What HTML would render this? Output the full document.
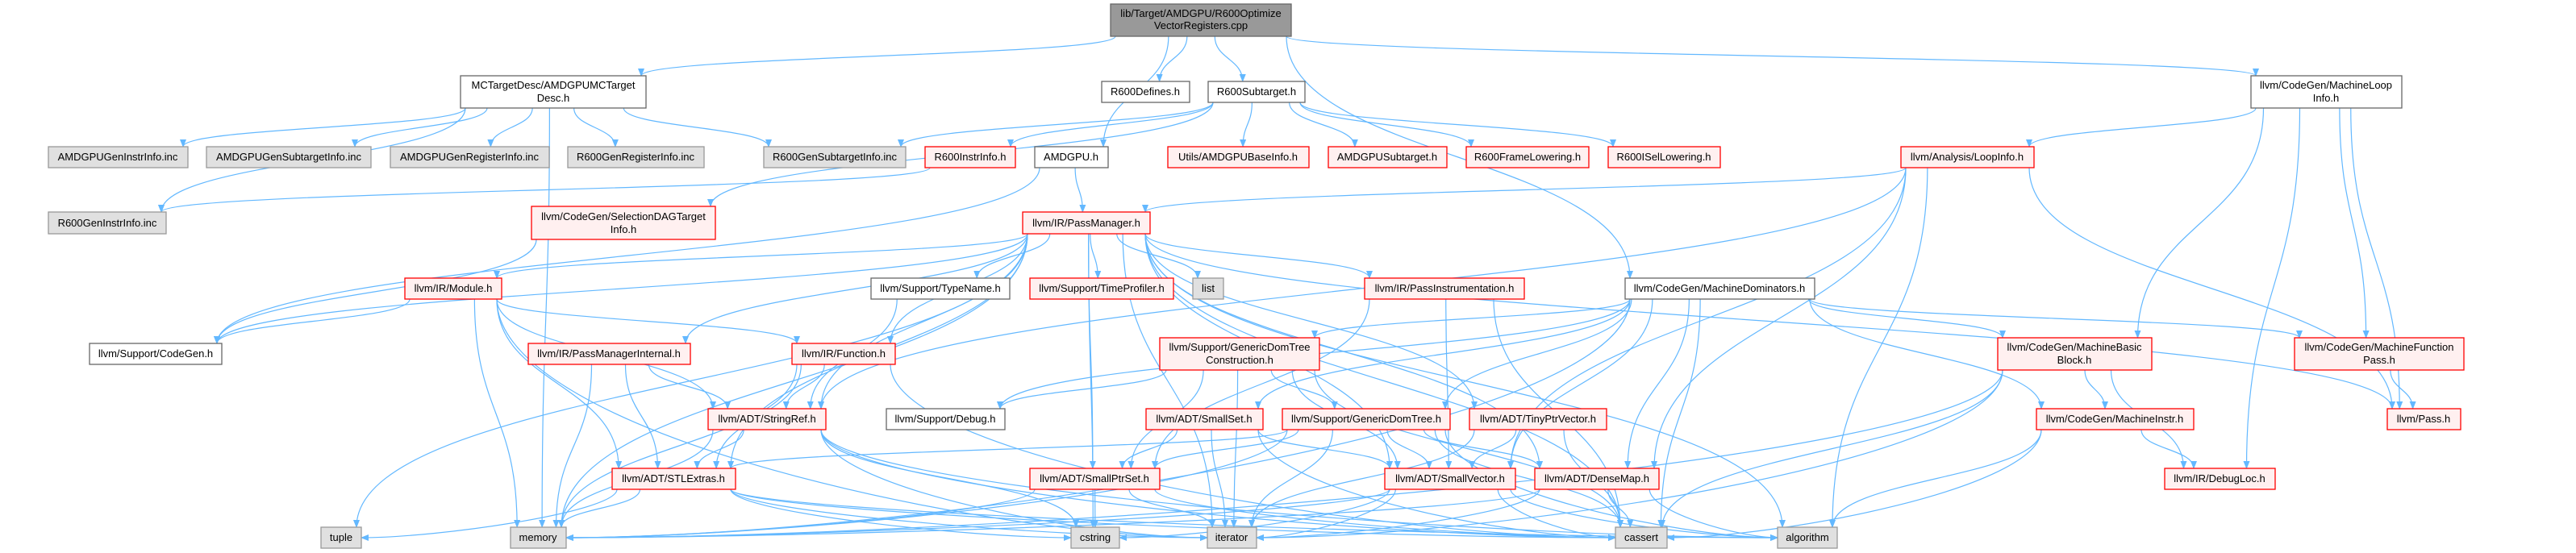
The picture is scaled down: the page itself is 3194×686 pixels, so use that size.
<!DOCTYPE html>
<html><head><meta charset="utf-8"><style>
html,body{margin:0;padding:0;background:#fff;}
svg{display:block;}
text{font-family:"Liberation Sans",Arial,sans-serif;font-size:13px;fill:#000;text-anchor:middle;}
.w{fill:#fff;stroke:#666;stroke-width:1.3}
.r{fill:#fff0f0;stroke:#f00;stroke-width:1.3}
.g{fill:#e0e0e0;stroke:#999;stroke-width:1.3}
.d{fill:#999;stroke:#666;stroke-width:1.3}
.e{fill:none;stroke:#63b8ff;stroke-width:1.2}
</style></head><body>
<svg id="s" width="3194" height="686" viewBox="0 0 3194 686" xmlns="http://www.w3.org/2000/svg">
<defs><marker id="a" viewBox="0 0 10 8" refX="9" refY="4" markerWidth="10" markerHeight="8" markerUnits="userSpaceOnUse" orient="auto"><path d="M0,0 L10,4 L0,8 z" fill="#63b8ff"/></marker></defs>
<g id="edges"></g>
<g id="nodes">
<rect class="d" x="1377" y="5" width="224" height="40"/><text x="1489" y="21">lib/Target/AMDGPU/R600Optimize</text><text x="1489" y="36">VectorRegisters.cpp</text>
<rect class="w" x="571" y="94" width="230" height="40"/><text x="686" y="110">MCTargetDesc/AMDGPUMCTarget</text><text x="686" y="126">Desc.h</text>
<rect class="w" x="1366" y="101" width="109" height="26"/><text x="1420" y="118">R600Defines.h</text>
<rect class="w" x="1498" y="101" width="120" height="26"/><text x="1558" y="118">R600Subtarget.h</text>
<rect class="w" x="2791" y="94" width="187" height="40"/><text x="2884" y="110">llvm/CodeGen/MachineLoop</text><text x="2884" y="126">Info.h</text>
<rect class="g" x="60" y="182" width="173" height="26"/><text x="146" y="199">AMDGPUGenInstrInfo.inc</text>
<rect class="g" x="256" y="182" width="204" height="26"/><text x="358" y="199">AMDGPUGenSubtargetInfo.inc</text>
<rect class="g" x="484" y="182" width="197" height="26"/><text x="582" y="199">AMDGPUGenRegisterInfo.inc</text>
<rect class="g" x="704" y="182" width="169" height="26"/><text x="788" y="199">R600GenRegisterInfo.inc</text>
<rect class="g" x="947" y="182" width="176" height="26"/><text x="1035" y="199">R600GenSubtargetInfo.inc</text>
<rect class="r" x="1147" y="182" width="112" height="26"/><text x="1203" y="199">R600InstrInfo.h</text>
<rect class="w" x="1283" y="182" width="91" height="26"/><text x="1328" y="199">AMDGPU.h</text>
<rect class="r" x="1448" y="182" width="175" height="26"/><text x="1535" y="199">Utils/AMDGPUBaseInfo.h</text>
<rect class="r" x="1647" y="182" width="147" height="26"/><text x="1720" y="199">AMDGPUSubtarget.h</text>
<rect class="r" x="1818" y="182" width="152" height="26"/><text x="1894" y="199">R600FrameLowering.h</text>
<rect class="r" x="1994" y="182" width="139" height="26"/><text x="2063" y="199">R600ISelLowering.h</text>
<rect class="r" x="2357" y="182" width="165" height="26"/><text x="2439" y="199">llvm/Analysis/LoopInfo.h</text>
<rect class="g" x="60" y="263" width="146" height="27"/><text x="133" y="281">R600GenInstrInfo.inc</text>
<rect class="r" x="659" y="256" width="228" height="41"/><text x="773" y="273">llvm/CodeGen/SelectionDAGTarget</text><text x="773" y="289">Info.h</text>
<rect class="r" x="1268" y="263" width="158" height="27"/><text x="1347" y="281">llvm/IR/PassManager.h</text>
<rect class="r" x="502" y="345" width="120" height="26"/><text x="562" y="362">llvm/IR/Module.h</text>
<rect class="w" x="1080" y="345" width="172" height="26"/><text x="1166" y="362">llvm/Support/TypeName.h</text>
<rect class="r" x="1277" y="345" width="178" height="26"/><text x="1366" y="362">llvm/Support/TimeProfiler.h</text>
<rect class="g" x="1479" y="345" width="38" height="26"/><text x="1498" y="362">list</text>
<rect class="r" x="1692" y="345" width="198" height="26"/><text x="1791" y="362">llvm/IR/PassInstrumentation.h</text>
<rect class="w" x="2015" y="345" width="235" height="26"/><text x="2132" y="362">llvm/CodeGen/MachineDominators.h</text>
<rect class="w" x="111" y="426" width="164" height="26"/><text x="193" y="443">llvm/Support/CodeGen.h</text>
<rect class="r" x="655" y="426" width="201" height="26"/><text x="755" y="443">llvm/IR/PassManagerInternal.h</text>
<rect class="r" x="982" y="426" width="128" height="26"/><text x="1046" y="443">llvm/IR/Function.h</text>
<rect class="r" x="1438" y="419" width="198" height="40"/><text x="1537" y="435">llvm/Support/GenericDomTree</text><text x="1537" y="451">Construction.h</text>
<rect class="r" x="2477" y="419" width="191" height="40"/><text x="2572" y="435">llvm/CodeGen/MachineBasic</text><text x="2572" y="451">Block.h</text>
<rect class="r" x="2845" y="419" width="210" height="40"/><text x="2950" y="435">llvm/CodeGen/MachineFunction</text><text x="2950" y="451">Pass.h</text>
<rect class="r" x="878" y="507" width="146" height="26"/><text x="951" y="524">llvm/ADT/StringRef.h</text>
<rect class="w" x="1099" y="507" width="147" height="26"/><text x="1172" y="524">llvm/Support/Debug.h</text>
<rect class="r" x="1421" y="507" width="145" height="26"/><text x="1493" y="524">llvm/ADT/SmallSet.h</text>
<rect class="r" x="1590" y="507" width="208" height="26"/><text x="1694" y="524">llvm/Support/GenericDomTree.h</text>
<rect class="r" x="1822" y="507" width="170" height="26"/><text x="1907" y="524">llvm/ADT/TinyPtrVector.h</text>
<rect class="r" x="2525" y="507" width="195" height="26"/><text x="2622" y="524">llvm/CodeGen/MachineInstr.h</text>
<rect class="r" x="2960" y="507" width="91" height="26"/><text x="3005" y="524">llvm/Pass.h</text>
<rect class="r" x="759" y="581" width="153" height="26"/><text x="835" y="598">llvm/ADT/STLExtras.h</text>
<rect class="r" x="1277" y="581" width="161" height="26"/><text x="1357" y="598">llvm/ADT/SmallPtrSet.h</text>
<rect class="r" x="1717" y="581" width="162" height="26"/><text x="1798" y="598">llvm/ADT/SmallVector.h</text>
<rect class="r" x="1903" y="581" width="154" height="26"/><text x="1980" y="598">llvm/ADT/DenseMap.h</text>
<rect class="r" x="2684" y="581" width="137" height="26"/><text x="2752" y="598">llvm/IR/DebugLoc.h</text>
<rect class="g" x="398" y="654" width="50" height="26"/><text x="423" y="671">tuple</text>
<rect class="g" x="633" y="654" width="69" height="26"/><text x="667" y="671">memory</text>
<rect class="g" x="1328" y="654" width="60" height="26"/><text x="1358" y="671">cstring</text>
<rect class="g" x="1497" y="654" width="61" height="26"/><text x="1527" y="671">iterator</text>
<rect class="g" x="2003" y="654" width="64" height="26"/><text x="2035" y="671">cassert</text>
<rect class="g" x="2204" y="654" width="74" height="26"/><text x="2241" y="671">algorithm</text>
</g>
</svg>
<script>
var N={root:[1377,1601,5,45],mc:[571,801,94,134],r6def:[1366,1475,101,127],r6sub:[1498,1618,101,127],mli:[2791,2978,94,134],
agii:[60,233,182,208],agsi:[256,460,182,208],agri:[484,681,182,208],r6gri:[704,873,182,208],r6gsi:[947,1123,182,208],r6ii:[1147,1259,182,208],
amdgpu:[1283,1374,182,208],utils:[1448,1623,182,208],agsub:[1647,1794,182,208],r6fl:[1818,1970,182,208],r6isel:[1994,2133,182,208],loop:[2357,2522,182,208],
r6gii:[60,206,263,290],sdag:[659,887,256,297],pm:[1268,1426,263,290],module:[502,622,345,371],typename:[1080,1252,345,371],timeprof:[1277,1455,345,371],
list:[1479,1517,345,371],passinst:[1692,1890,345,371],mdom:[2015,2250,345,371],codegen:[111,275,426,452],pmi:[655,856,426,452],func:[982,1110,426,452],
gdtc:[1438,1636,419,459],mbb:[2477,2668,419,459],mfp:[2845,3055,419,459],stringref:[878,1024,507,533],debug:[1099,1246,507,533],smallset:[1421,1566,507,533],
gdt:[1590,1798,507,533],tiny:[1822,1992,507,533],minstr:[2525,2720,507,533],pass:[2960,3051,507,533],stl:[759,912,581,607],sps:[1277,1438,581,607],
sv:[1717,1879,581,607],dm:[1903,2057,581,607],dloc:[2684,2821,581,607],tuple:[398,448,654,680],memory:[633,702,654,680],cstring:[1328,1388,654,680],
iterator:[1497,1558,654,680],cassert:[2003,2067,654,680],algorithm:[2204,2278,654,680]};
var E={root:["mc","amdgpu","r6def","r6sub","mdom","mli"],
mc:["agii","agsi","agri","r6gri","r6gsi","r6gii","memory"],
r6sub:["r6gsi","r6ii","sdag","utils","agsub","r6fl","r6isel"],
r6ii:["r6gii"],amdgpu:["pm","codegen"],sdag:["codegen"],
mli:["loop","mbb","dloc","mfp","pass"],
loop:["pm","pass","sv","algorithm","stringref","dm"],
pm:["module","typename","timeprof","list","passinst","func","pmi","stringref","stl","sps","sv","tiny","dm","tuple","memory","cstring","iterator","cassert","algorithm","pass","codegen"],
module:["codegen","func","stringref","stl","memory","iterator"],
pmi:["stl","stringref","memory"],func:["stringref","stl","memory","cassert"],typename:["stringref"],
passinst:["sv","sps","cassert"],
mdom:["gdtc","gdt","smallset","sv","dm","cassert","memory","mbb","minstr","mfp","debug"],
gdtc:["debug","sps","gdt","sv","cassert","iterator"],
smallset:["sps","sv","cassert","iterator"],
gdt:["stl","sps","sv","dm","memory","iterator","cassert","algorithm"],
tiny:["sv","cassert","iterator"],
stringref:["stl","cstring","iterator","cassert","algorithm","memory"],
stl:["tuple","memory","iterator","cassert","algorithm","cstring"],
sps:["cstring","iterator","cassert","memory"],
sv:["cassert","cstring","iterator","memory","algorithm"],
dm:["cassert","algorithm","iterator","memory"],
mbb:["minstr","dloc","cassert","iterator","memory"],
minstr:["dloc","cassert","algorithm"],mfp:["pass"]};
var g=document.getElementById("edges"),out="";
function cl(v,a,b){return Math.max(a+6,Math.min(b-6,v));}
for(var s in E){E[s].forEach(function(t){var A=N[s],B=N[t];
var acx=(A[0]+A[1])/2,bcx=(B[0]+B[1])/2;
var sx=cl(acx+(bcx-acx)*0.25,A[0],A[1]),sy=A[3];
var tx=cl(bcx+(acx-bcx)*0.25,B[0],B[1]),ty=B[2];
var d;
if(B[2]<=A[3]+4){ // same row-ish: side
 sy=(A[2]+A[3])/2;ty=(B[2]+B[3])/2;sx=bcx<acx?A[0]:A[1];tx=bcx<acx?B[1]:B[0];
 d="M"+sx+","+sy+" C"+(sx+tx)/2+","+sy+" "+(sx+tx)/2+","+ty+" "+tx+","+ty;
}else{var dy=ty-sy;
 if(Math.abs(tx-sx)>3*dy && B[2]>600){ // far horizontal to bottom row: end at side
  ty=(B[2]+B[3])/2; tx=sx>bcx?B[1]:B[0];
  d="M"+sx+","+sy+" C"+sx+","+(sy+dy*0.6)+" "+(tx+(sx-tx)*0.3)+","+ty+" "+tx+","+ty;
 }else d="M"+sx+","+sy+" C"+sx+","+(sy+dy*0.5)+" "+tx+","+(ty-dy*0.5)+" "+tx+","+ty;}
out+='<path class="e" marker-end="url(#a)" d="'+d+'"/>';});}
g.innerHTML=out;
</script>
</body></html>
